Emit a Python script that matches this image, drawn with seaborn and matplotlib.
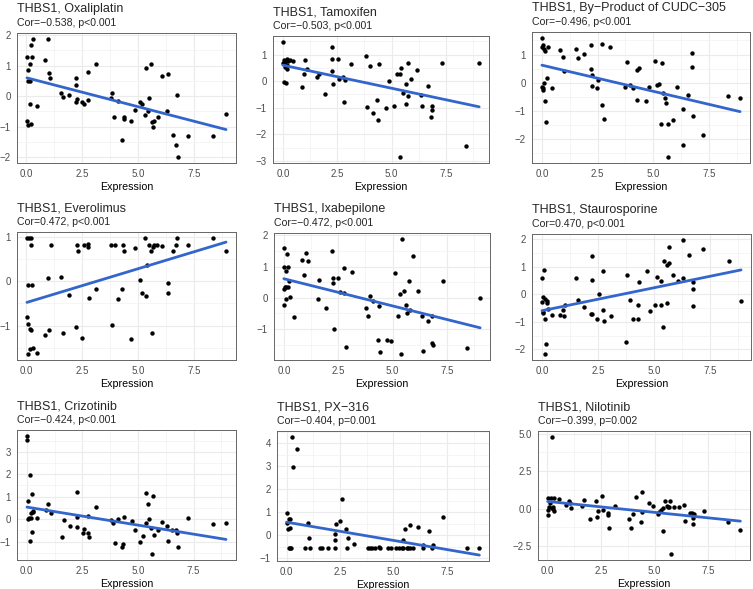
import matplotlib
matplotlib.use("Agg")
import matplotlib.pyplot as plt
from matplotlib.ticker import AutoMinorLocator
import seaborn as sns

# ---- data (x = THBS1 expression, y = drug sensitivity z-score)
oxa_x = [0.03, 0.06, 0.09, 0.15, 0.18, 0.22, 0.25, 0.3, 0.15, 0.03, 0.07, 0.19, 0.48, 0.85, 0.97, 1.01, 1.07,
         1.56, 1.65, 1.9, 2.23, 2.23, 2.23, 2.28, 2.5, 2.57, 2.75, 2.78, 3.13, 3.8, 3.84, 3.94, 4.09, 4.29, 4.35,
         4.39, 4.7, 4.87, 5.07, 5.16, 5.31, 5.33, 5.42, 5.48, 5.58, 5.61, 5.68, 5.7, 5.88, 6.06, 6.32, 6.3, 6.55,
         6.7, 6.74, 6.77, 7.23, 8.33, 8.93]
oxa_y = [1.29, 0.85, 0.49, 1.04, 0.51, 1.67, 1.29, 1.87, -0.27, -0.82, -0.95, -0.9, -0.33, 1.19, 1.86, 0.75, 0.6,
         0.1, -0.03, 0.05, 0.6, 0.36, -0.2, -0.1, -0.19, -0.24, 0.8, -0.14, 1.05, -0.05, 0.09, -0.68, -0.16, -1.43,
         -0.73, -0.67, -0.8, -0.46, -0.2, -0.27, -0.6, 0.91, -0.49, -0.05, 1.05, -0.86, -1.0, -0.82, -0.67, 0.66,
         0.74, -0.48, -1.28, -1.58, 0.04, -1.99, -1.31, -1.31, -0.58]

tam_x = [0.0, 0.03, 0.06, 0.09, 0.05, 0.15, 0.12, 0.18, 0.21, 0.18, 0.26, 0.33, 0.48, 0.86, 0.97, 1.03, 1.09,
         1.58, 1.64, 1.93, 2.25, 2.26, 2.28, 2.32, 2.52, 2.6, 2.78, 2.81, 2.87, 3.15, 3.8, 3.88, 4.0, 4.13, 4.34,
         4.37, 4.42, 4.75, 4.9, 5.13, 5.25, 5.38, 5.4, 5.45, 5.52, 5.64, 5.67, 5.75, 5.76, 5.91, 6.15, 6.36, 6.39,
         6.67, 6.82, 6.83, 6.83, 7.3, 8.43, 9.02]
tam_y = [1.48, 0.67, 0.79, 0.73, -0.05, -0.06, 0.54, 0.85, 0.6, 0.44, 0.75, 0.79, 0.77, -0.23, 0.25, 0.78, 0.44,
         0.17, 0.27, -0.49, 1.27, 0.4, 0.85, -0.11, 0.83, 0.07, 0.17, -0.8, 0.06, 0.64, 0.93, -0.98, 0.58, -1.19,
         -0.72, -1.47, 0.65, -1.01, 0.02, -0.93, 0.25, 0.25, -2.86, 0.49, -0.43, -0.85, -0.09, 0.69, -0.57, 0.09,
         0.42, -0.51, -0.93, -0.2, -1.36, -0.94, -1.1, 0.7, -2.42, 0.67]

cudc_x = [0.0, 0.0, 0.03, 0.0, 0.03, 0.07, 0.1, 0.1, 0.15, 0.13, 0.18, 0.22, 0.27, 0.45, 0.81, 0.93, 1.0, 1.53,
          1.63, 1.87, 2.2, 2.2, 2.23, 2.26, 2.47, 2.54, 2.72, 2.72, 2.77, 3.07, 3.74, 3.82, 3.95, 4.07, 4.28, 4.29,
          4.34, 4.67, 4.82, 5.07, 5.16, 5.27, 5.33, 5.4, 5.46, 5.54, 5.57, 5.67, 5.67, 5.87, 6.08, 6.32, 6.32,
          6.57, 6.74, 6.74, 6.77, 7.22, 8.34, 8.9]
cudc_y = [1.59, 1.28, 1.34, -0.14, -0.27, -0.19, -0.02, 1.18, 1.12, -0.65, -1.41, 0.17, 1.28, -0.19, 1.16, 0.92,
          0.43, 1.2, 0.89, 1.01, 1.34, 0.49, 0.28, -0.13, -0.19, 0.1, 1.36, -0.8, -1.29, 1.27, -0.14, 0.73, -0.07,
          -0.18, 0.46, -0.61, 0.52, -0.66, -0.17, 0.78, -0.1, -0.05, -1.46, 0.7, -0.36, -0.53, -0.73, -1.46, -2.65,
          -1.33, -0.17, -0.95, -2.22, -0.43, 1.04, 0.57, -1.2, -1.86, -0.47, -0.55]

evero_x = [0.03, 0.12, 0.19, 0.22, 0.06, 0.25, 0.03, 0.09, 0.15, 0.19, 0.06, 0.18, 0.3, 0.48, 0.85, 0.97, 1.01,
           1.09, 1.56, 1.65, 1.9, 2.23, 2.25, 2.29, 2.5, 2.6, 2.75, 2.75, 2.8, 3.13, 3.78, 3.84, 3.97, 4.09, 4.29,
           4.32, 4.38, 4.7, 4.84, 5.07, 5.18, 5.31, 5.36, 5.4, 5.48, 5.58, 5.61, 5.68, 5.7, 5.85, 6.06, 6.32, 6.32,
           6.55, 6.7, 6.73, 7.25, 8.33, 8.93]
evero_y = [0.99, 0.99, 0.99, 0.83, -0.07, -0.08, -0.81, -0.96, -1.07, -1.1, -1.65, -1.54, -1.51, -1.62, -1.22,
           0.07, -1.1, 0.83, 0.1, -1.17, -0.3, -1.04, 0.83, 0.68, -1.28, 0.83, 0.84, 0.78, -0.37, -0.18, 0.83,
           -0.98, 0.83, -0.4, -0.18, 0.83, 0.68, -1.31, 0.77, 0.03, -0.26, 0.99, -0.32, 0.38, 0.83, 0.68, -1.16,
           0.78, 0.83, 0.83, 0.81, -0.03, -0.26, 0.68, 0.83, 0.99, 0.83, 0.99, 0.68]

ixa_x = [0.02, 0.0, 0.02, 0.03, 0.05, 0.12, 0.12, 0.09, 0.15, 0.18, 0.18, 0.23, 0.27, 0.45, 0.83, 0.95, 1.02,
         1.09, 1.56, 1.64, 1.92, 2.23, 2.24, 2.27, 2.29, 2.5, 2.58, 2.77, 2.77, 2.85, 3.14, 3.79, 3.88, 3.98, 4.12,
         4.33, 4.36, 4.41, 4.74, 4.91, 5.12, 5.24, 5.36, 5.41, 5.45, 5.53, 5.64, 5.67, 5.77, 5.79, 5.92, 6.15,
         6.36, 6.39, 6.65, 6.82, 6.82, 6.85, 7.32, 8.44, 9.03]
ixa_y = [1.6, 1.0, 0.29, -0.24, 0.34, 0.86, 0.34, -0.05, 1.41, 1.0, 0.34, 0.55, 0.03, -0.63, 1.2, 0.73, 1.43,
         1.18, -0.05, 0.57, -0.33, 1.51, 0.48, 0.64, -1.0, 0.63, 0.18, 0.94, 0.15, -1.58, 0.83, -0.32, -0.58, 0.06,
         -0.11, -1.35, -0.27, -1.75, -1.35, -1.4, 0.79, -0.58, 0.11, -1.81, 1.89, 0.21, -0.22, -0.49, 0.55, -0.38,
         1.33, 0.21, -0.6, -1.72, -0.73, -0.6, -1.44, -1.53, 0.53, -1.61, -0.02]

stau_x = [0.0, 0.0, 0.03, 0.03, 0.06, 0.1, 0.13, 0.18, 0.13, 0.15, 0.22, 0.22, 0.28, 0.45, 0.81, 0.93, 1.0, 1.05,
          1.54, 1.63, 1.87, 2.2, 2.22, 2.25, 2.25, 2.47, 2.54, 2.72, 2.72, 2.77, 3.07, 3.76, 3.82, 3.94, 4.07,
          4.28, 4.31, 4.34, 4.69, 4.84, 5.06, 5.16, 5.3, 5.33, 5.4, 5.46, 5.57, 5.6, 5.66, 5.67, 5.87, 6.08, 6.32,
          6.32, 6.57, 6.74, 6.74, 6.77, 7.22, 8.34, 8.9]
stau_y = [0.59, -0.27, -0.08, -0.63, -0.69, 0.9, -0.17, -1.79, -2.18, -0.89, -0.25, -0.3, -0.52, -0.76, -0.76,
          -0.58, -0.79, -0.37, 0.59, -0.19, -0.45, -0.72, 0.51, 1.38, -0.71, -0.91, 0.0, 0.86, -0.56, -0.97, -0.77,
          -1.74, 0.72, -0.22, -0.91, -0.9, -0.37, 0.44, 0.84, -0.62, -0.37, 0.63, 0.47, -0.39, -1.18, 1.21, 1.07,
          -0.31, 1.15, 1.72, 0.71, 0.47, 1.99, 0.59, 1.43, 0.44, -0.41, 0.19, 1.66, 1.23, -0.25]

criz_x = [0.03, 0.01, 0.04, 0.06, 0.12, 0.15, 0.16, 0.18, 0.21, 0.22, 0.25, 0.27, 0.3, 0.48, 0.85, 0.97, 1.07,
          1.58, 1.67, 1.93, 2.25, 2.25, 2.28, 2.51, 2.58, 2.76, 2.76, 2.82, 3.13, 3.81, 3.87, 3.97, 4.09, 4.3,
          4.34, 4.39, 4.72, 4.88, 5.1, 5.22, 5.34, 5.35, 5.43, 5.49, 5.6, 5.63, 5.69, 5.7, 5.9, 6.09, 6.31, 6.36,
          6.55, 6.72, 6.75, 6.78, 7.25, 8.36, 8.96]
criz_y = [3.71, 3.52, 0.79, 0.0, 0.04, -0.97, 1.95, 0.04, 0.27, -0.56, 1.14, 0.3, 0.37, 0.04, 0.42, 0.68, 0.28,
          -0.8, -0.06, -0.31, 1.22, 0.09, -0.33, -0.61, -0.45, 0.16, -0.61, -0.8, 0.55, -0.06, -0.19, -1.07, 0.0,
          -1.26, -1.1, 0.1, -0.1, -0.5, -1.01, -0.76, 1.17, -0.18, 0.68, 0.01, -0.39, -1.56, 1.01, -0.73, -0.49,
          -0.15, -0.3, -0.98, -0.49, -0.49, -0.62, -1.23, 0.03, -0.22, -0.16]

px_x = [0.0, 0.03, 0.06, 0.09, 0.12, 0.15, 0.18, 0.18, 0.21, 0.26, 0.32, 0.48, 0.86, 0.98, 1.03, 1.1, 1.58, 1.66,
        1.93, 2.25, 2.26, 2.28, 2.31, 2.52, 2.6, 2.78, 2.81, 2.87, 3.15, 3.8, 3.9, 4.0, 4.13, 4.34, 4.37, 4.75,
        4.9, 5.13, 5.25, 5.38, 5.43, 5.46, 5.54, 5.64, 5.69, 5.76, 5.78, 5.93, 6.15, 6.36, 6.39, 6.67, 6.82,
        6.85, 7.32, 8.43, 9.02]
px_y = [0.95, 0.54, 0.28, -0.57, 0.69, -0.57, 0.69, 0.31, -0.57, 4.28, 2.95, 3.75, -0.57, 0.51, -0.13, -0.57,
        -0.57, -0.57, -0.57, -0.2, 0.06, -0.57, 0.5, 0.6, 1.58, 0.25, -0.57, -0.13, -0.38, -0.57, -0.57, -0.57,
        -0.57, -0.53, -0.57, -0.57, -0.57, -0.57, -0.57, -0.57, -0.22, -0.57, 0.26, -0.57, -0.57, 0.44, -0.57,
        -0.57, 0.34, -0.45, -0.57, 0.16, -0.57, -0.42, 0.79, -0.57, -0.57]

nilo_x = [0.22, 0.06, 0.03, 0.06, 0.11, 0.15, 0.19, 0.22, 0.26, 0.31, 0.28, 0.34, 0.54, 0.88, 1.03, 1.06, 1.11,
          1.62, 1.73, 1.98, 2.28, 2.31, 2.35, 2.55, 2.61, 2.82, 2.81, 2.87, 3.16, 3.81, 3.89, 4.01, 4.12, 4.35,
          4.4, 4.43, 4.75, 4.92, 5.14, 5.2, 5.31, 5.37, 5.4, 5.46, 5.56, 5.62, 5.66, 5.69, 5.74, 5.91, 6.13, 6.36,
          6.4, 6.64, 6.74, 6.79, 6.8, 6.82, 7.28, 8.41, 8.98]
nilo_y = [4.78, 0.69, -0.07, -0.42, 0.13, 0.35, 0.73, 0.02, 0.13, 0.69, -0.02, -0.13, 0.62, 0.24, 0.51, 0.35,
          0.07, 0.18, 0.58, -0.66, 0.49, -0.55, -0.13, 0.86, -0.09, -0.31, -0.42, -1.26, 0.2, -0.69, -1.26, -0.38,
          0.8, -0.88, -0.2, 1.1, 0.4, 0.15, -0.33, -0.2, -0.09, 0.02, -1.46, 0.51, 0.18, 0.13, 0.09, 0.51, -3.03,
          0.09, 0.09, 0.27, -0.82, -0.29, -0.27, -0.64, -1.0, -0.38, -0.15, -0.86, -1.39]

titles = ["THBS1, Oxaliplatin", "THBS1, Tamoxifen", "THBS1, By\u2212Product of CUDC\u2212305",
          "THBS1, Everolimus", "THBS1, Ixabepilone", "THBS1, Staurosporine",
          "THBS1, Crizotinib", "THBS1, PX\u2212316", "THBS1, Nilotinib"]
subtitles = ["Cor=\u22120.538, p<0.001", "Cor=\u22120.503, p<0.001", "Cor=\u22120.496, p<0.001",
             "Cor=0.472, p<0.001", "Cor=\u22120.472, p<0.001", "Cor=0.470, p<0.001",
             "Cor=\u22120.424, p<0.001", "Cor=\u22120.404, p=0.001", "Cor=\u22120.399, p=0.002"]
xs = [oxa_x, tam_x, cudc_x, evero_x, ixa_x, stau_x, criz_x, px_x, nilo_x]
ys = [oxa_y, tam_y, cudc_y, evero_y, ixa_y, stau_y, criz_y, px_y, nilo_y]
yticks = [[-2, -1, 0, 1, 2], [-3, -2, -1, 0, 1], [-2, -1, 0, 1], [-1, 0, 1], [-1, 0, 1, 2],
          [-2, -1, 0, 1, 2], [-1, 0, 1, 2, 3], [-1, 0, 1, 2, 3, 4], [-2.5, 0.0, 2.5, 5.0]]
xticks = [0.0, 2.5, 5.0, 7.5]

# panel boxes in pixels: left, top, right, bottom
boxes = [(17, 33, 236, 163), (273, 36, 489, 163), (532, 32, 750, 163),
         (17, 232, 236, 360), (274, 233, 490, 360), (532, 234, 751, 360),
         (17, 430, 236, 560), (277, 431, 489, 561), (538, 431, 750, 560)]

sns.set_style("white")
plt.rcParams['font.family'] = ['Liberation Sans', 'DejaVu Sans']

W, H = 753, 589
fig = plt.figure(figsize=(W / 100, H / 100), dpi=100)

def fmt(v):
    s = f"{v:.1f}" if isinstance(v, float) else str(v)
    return s.replace("-", "\u2212")

for i in range(9):
    l, t, r, b = boxes[i]
    ax = fig.add_axes([l / W, 1 - b / H, (r - l) / W, (b - t) / H])
    sns.regplot(x=xs[i], y=ys[i], ax=ax, ci=None,
                scatter_kws=dict(s=10, color='black', linewidths=0, alpha=1),
                line_kws=dict(color='#3366CC', linewidth=2))
    ax.set_xticks(xticks, [fmt(v) for v in xticks])
    ax.set_yticks(yticks[i], [fmt(v) for v in yticks[i]])
    ax.xaxis.set_minor_locator(AutoMinorLocator(2))
    ax.yaxis.set_minor_locator(AutoMinorLocator(2))
    ax.set_axisbelow(True)
    ax.grid(True, which='major', color='#EBEBEB', linewidth=0.8)
    ax.grid(True, which='minor', color='#F2F2F2', linewidth=0.5)
    ax.tick_params(which='major', length=3, width=0.6, color='#555555',
                   labelsize=7, labelcolor='#4D4D4D', pad=1.5)
    ax.tick_params(which='minor', length=0)
    for sp in ax.spines.values():
        sp.set_color('#666666')
        sp.set_linewidth(0.7)
    ax.set_xlabel("Expression", fontsize=7.7, color='black', labelpad=2)
    ax.set_ylabel("")
    ax.annotate(titles[i], xy=(0, 1), xycoords='axes fraction', xytext=(0, 15),
                textcoords='offset points', fontsize=9, ha='left', va='baseline')
    ax.annotate(subtitles[i], xy=(0, 1), xycoords='axes fraction', xytext=(0, 4.8),
                textcoords='offset points', fontsize=7.6, ha='left', va='baseline')

fig.savefig("out.png", dpi=100)
